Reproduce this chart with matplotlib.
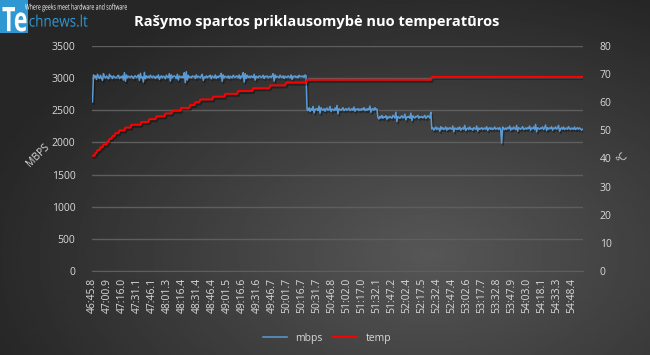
import numpy as np
import matplotlib
matplotlib.use("Agg")
import matplotlib.pyplot as plt
import matplotlib.patheffects as pe
from matplotlib.patches import Rectangle, PathPatch
from matplotlib.textpath import TextPath
from matplotlib.font_manager import FontProperties
from matplotlib.transforms import Affine2D

# --- data ---
time_labels = [
    "46:45.8", "47:00.9", "47:16.0", "47:31.1", "47:46.1", "48:01.3", "48:16.4",
    "48:31.4", "48:46.4", "49:01.5", "49:16.6", "49:31.6", "49:46.7", "50:01.7",
    "50:16.7", "50:31.7", "50:46.8", "51:02.0", "51:17.0", "51:32.1", "51:47.2",
    "52:02.4", "52:17.5", "52:32.4", "52:47.4", "53:02.6", "53:17.7", "53:32.8",
    "53:47.9", "54:03.0", "54:18.1", "54:33.3", "54:48.4",
]
LABEL_EVERY = 15

mbps = [
    2630, 3050, 3010, 3035, 2980, 3060, 3020, 2995, 3045, 3005, 2965, 3070, 3020, 3005, 3035,
    3010, 2990, 3060, 3020, 3030, 2995, 3035, 3020, 3005, 3010, 3030, 3045, 2995, 3020, 3010,
    3035, 2970, 3085, 2950, 3050, 3005, 3030, 3020, 3010, 3035, 3020, 2995, 3030, 3035, 3010,
    3020, 3050, 2965, 3075, 3005, 3020, 2940, 3090, 2990, 3035, 3010, 3030, 3005, 3045, 3020,
    3005, 3035, 3020, 2995, 3030, 3010, 3050, 2980, 3020, 3035, 3005, 3030, 3020, 2990, 3045,
    3020, 3010, 3070, 2955, 3050, 3005, 3030, 3035, 3020, 2995, 3060, 2970, 3035, 3020, 3010,
    3030, 3005, 3085, 2930, 3100, 2970, 3045, 3010, 3020, 3005, 3035, 3020, 3030, 2995, 3050,
    3010, 3030, 3020, 3005, 3035, 3060, 2965, 3020, 3010, 3035, 3005, 3030, 3020, 3045, 2990,
    3035, 3020, 3005, 3050, 2995, 3030, 3010, 3035, 3020, 3075, 2950, 3050, 3005, 3030, 3020,
    3010, 3035, 2995, 3030, 3020, 3005, 3045, 3020, 3010, 3035, 3030, 3005, 3050, 2990, 3030,
    3020, 3085, 2940, 3070, 2995, 3045, 3010, 3030, 3005, 3035, 3020, 3010, 3060, 2970, 3030,
    3020, 3005, 3035, 3030, 3010, 3020, 3045, 2995, 3030, 3020, 3035, 3005, 3020, 3030, 3010,
    3035, 3070, 2955, 3050, 3010, 3030, 3020, 3005, 3045, 3020, 3010, 3035, 2995, 3030, 3020,
    3010, 3035, 3020, 3005, 3050, 2980, 3030, 3020, 3035, 3010, 3030, 3005, 3045, 3020, 3030,
    3020, 3035, 3010, 3050, 3035, 2510, 2495, 2540, 2480, 2525, 2500, 2560, 2460, 2520, 2510,
    2525, 2495, 2565, 2455, 2540, 2510, 2500, 2525, 2485, 2520, 2535, 2500, 2510, 2560, 2480,
    2520, 2510, 2495, 2535, 2500, 2575, 2445, 2525, 2510, 2500, 2520, 2540, 2495, 2510, 2525,
    2500, 2520, 2535, 2495, 2510, 2525, 2500, 2550, 2485, 2520, 2510, 2525, 2495, 2520, 2500,
    2525, 2510, 2540, 2495, 2520, 2500, 2525, 2510, 2565, 2470, 2520, 2525, 2500, 2540, 2510,
    2520, 2390, 2365, 2405, 2380, 2420, 2375, 2400, 2390, 2415, 2360, 2400, 2380, 2405, 2390,
    2375, 2420, 2400, 2380, 2470, 2325, 2405, 2390, 2375, 2400, 2415, 2380, 2390, 2440, 2350,
    2400, 2390, 2405, 2375, 2455, 2340, 2415, 2390, 2380, 2405, 2400, 2420, 2375, 2400, 2390,
    2405, 2380, 2400, 2420, 2375, 2390, 2415, 2400, 2380, 2470, 2210, 2230, 2190, 2215, 2240,
    2200, 2225, 2215, 2175, 2245, 2205, 2230, 2200, 2215, 2240, 2190, 2225, 2205, 2230, 2215,
    2205, 2255, 2165, 2225, 2215, 2200, 2230, 2205, 2240, 2190, 2215, 2225, 2205, 2265, 2185,
    2215, 2225, 2200, 2240, 2205, 2215, 2190, 2230, 2215, 2205, 2255, 2175, 2225, 2205, 2215,
    2230, 2200, 2215, 2225, 2205, 2245, 2185, 2215, 2230, 2205, 2225, 2200, 2215, 2240, 2205,
    2215, 2225, 2200, 2230, 2205, 1990, 2240, 2215, 2200, 2225, 2205, 2230, 2215, 2255, 2190,
    2225, 2205, 2240, 2215, 2200, 2265, 2175, 2230, 2215, 2205, 2225, 2245, 2200, 2215, 2225,
    2205, 2230, 2215, 2255, 2190, 2225, 2215, 2240, 2200, 2280, 2165, 2230, 2215, 2205, 2225,
    2215, 2240, 2200, 2225, 2270, 2185, 2230, 2205, 2225, 2215, 2245, 2190, 2225, 2215, 2240,
    2205, 2225, 2265, 2175, 2215, 2230, 2205, 2240, 2200, 2215, 2225, 2205, 2245, 2215, 2200,
    2225, 2215, 2205, 2240, 2200, 2215, 2230, 2205, 2225, 2215, 2190, 2205,
]

# temperature is a staircase: level and the sample where it starts
temp_levels = list(range(41, 70))
temp_starts = [0, 3, 5, 8, 11, 15, 17, 20, 23, 27, 33, 39, 49, 57, 64, 73, 80, 89,
               98, 103, 108, 121, 133, 146, 161, 178, 194, 215, 340]

N = len(mbps)
x = np.arange(N)
run_lengths = np.diff(temp_starts + [N])
temp = np.repeat(temp_levels, run_lengths)

# --- style ---
TXT = "#d9d9d9"
GRID = "#5e5e5e"
BLUE = "#5b9bd5"
RED = "#ff0000"
LOGO_BLUE = "#2f98d3"
FONT = "Open Sans"

W, H = 650, 355
fig = plt.figure(figsize=(W / 100, H / 100), dpi=100)

# dark radial background
bg = fig.add_axes([0, 0, 1, 1], zorder=-10)
gx, gy = np.meshgrid(np.linspace(0, 1, 325), np.linspace(0, 1, 178))
r = np.sqrt(((gx - 0.66) / 0.75) ** 2 + ((gy - 0.72) / 0.85) ** 2)
shade = np.clip(0.34 - 0.2 * r, 0.15, 0.34)
bg.imshow(shade, cmap="gray", vmin=0, vmax=1, extent=[0, 1, 0, 1],
          origin="upper", aspect="auto", interpolation="bilinear")
bg.axis("off")

left, right, top, bottom = 92, 583, 46, 271
ax = fig.add_axes([left / W, 1 - bottom / H, (right - left) / W, (bottom - top) / H])
ax.set_facecolor("none")
ax2 = ax.twinx()

shadow = [pe.SimpleLineShadow(offset=(1, -1.5), shadow_color="black", alpha=0.35), pe.Normal()]

ax.plot(x, mbps, color=BLUE, lw=1.1, path_effects=shadow, zorder=3)
ax2.plot(x, temp, color=RED, lw=1.4, path_effects=shadow, zorder=4)

ax.set_xlim(-0.5, N - 0.5)
ax.set_ylim(0, 3500)
ax.set_yticks(np.arange(0, 3501, 500))
ax2.set_ylim(0, 80)
ax2.set_yticks(np.arange(0, 81, 10))

ax.set_xticks(np.arange(len(time_labels)) * LABEL_EVERY)
ax.set_xticklabels(time_labels, rotation=90)

ax.grid(axis="y", color=GRID, lw=1)
ax.set_axisbelow(True)
for a in (ax, ax2):
    for s in a.spines.values():
        s.set_visible(False)
ax.spines["bottom"].set_visible(True)
ax.spines["bottom"].set_color(GRID)

ax.tick_params(axis="y", length=0, pad=12, colors=TXT, labelsize=7.5)
ax.tick_params(axis="x", length=0, pad=5, colors=TXT, labelsize=7.5)
ax2.tick_params(axis="y", length=0, pad=12, colors=TXT, labelsize=7.5)
for lab in ax.get_xticklabels() + ax.get_yticklabels() + ax2.get_yticklabels():
    lab.set_family(FONT)

fig.text(38 / W, 1 - 155 / H, "MBPS", rotation=45, color=TXT, fontsize=7.5,
         family=FONT, ha="center", va="center")
fig.text(622 / W, 1 - 158 / H, "°C", rotation=45, color=TXT, fontsize=7.5,
         family=FONT, ha="center", va="center")

fig.text(317 / W, 1 - 22 / H, "Rašymo spartos priklausomybė nuo temperatūros",
         color="white", fontsize=10.5, fontweight="bold", family=FONT,
         ha="center", va="center")

# logo, drawn in pixel coordinates so the narrow lettering can be squeezed to size
logo = fig.add_axes([0, 0, 1, 1], zorder=5)
logo.set_xlim(0, W)
logo.set_ylim(0, H)
logo.axis("off")
logo.patch.set_alpha(0)


def fit_text(s, x0, x1, ytop, ybot, color, weight="normal"):
    tp = TextPath((0, 0), s, size=10, prop=FontProperties(family=FONT, weight=weight))
    ext = tp.get_extents()
    tr = (Affine2D().translate(-ext.x0, -ext.y0)
          .scale((x1 - x0) / ext.width, (ybot - ytop) / ext.height)
          .translate(x0, H - ybot))
    logo.add_patch(PathPatch(tr.transform_path(tp), facecolor=color, lw=0))


logo.add_patch(Rectangle((0, H - 33), 28, 33, color=LOGO_BLUE, lw=0))
fit_text("Te", 2.5, 26.5, 7, 31.5, "white", weight="bold")
fit_text("chnews.lt", 29.5, 87.5, 14.5, 26.8, LOGO_BLUE)
fit_text("Where geeks meet hardware and software", 25, 127, 3.5, 11.5, "white")

handles = [plt.Line2D([], [], color=BLUE, lw=1.1), plt.Line2D([], [], color=RED, lw=1.4)]
leg = fig.legend(handles, ["mbps", "temp"], loc="center", bbox_to_anchor=(327 / W, 1 - 338 / H),
                 ncol=2, frameon=False, handlelength=2.3, columnspacing=1.0,
                 prop={"family": FONT, "size": 7.5})
for t in leg.get_texts():
    t.set_color(TXT)

fig.savefig("out.png", dpi=100)
